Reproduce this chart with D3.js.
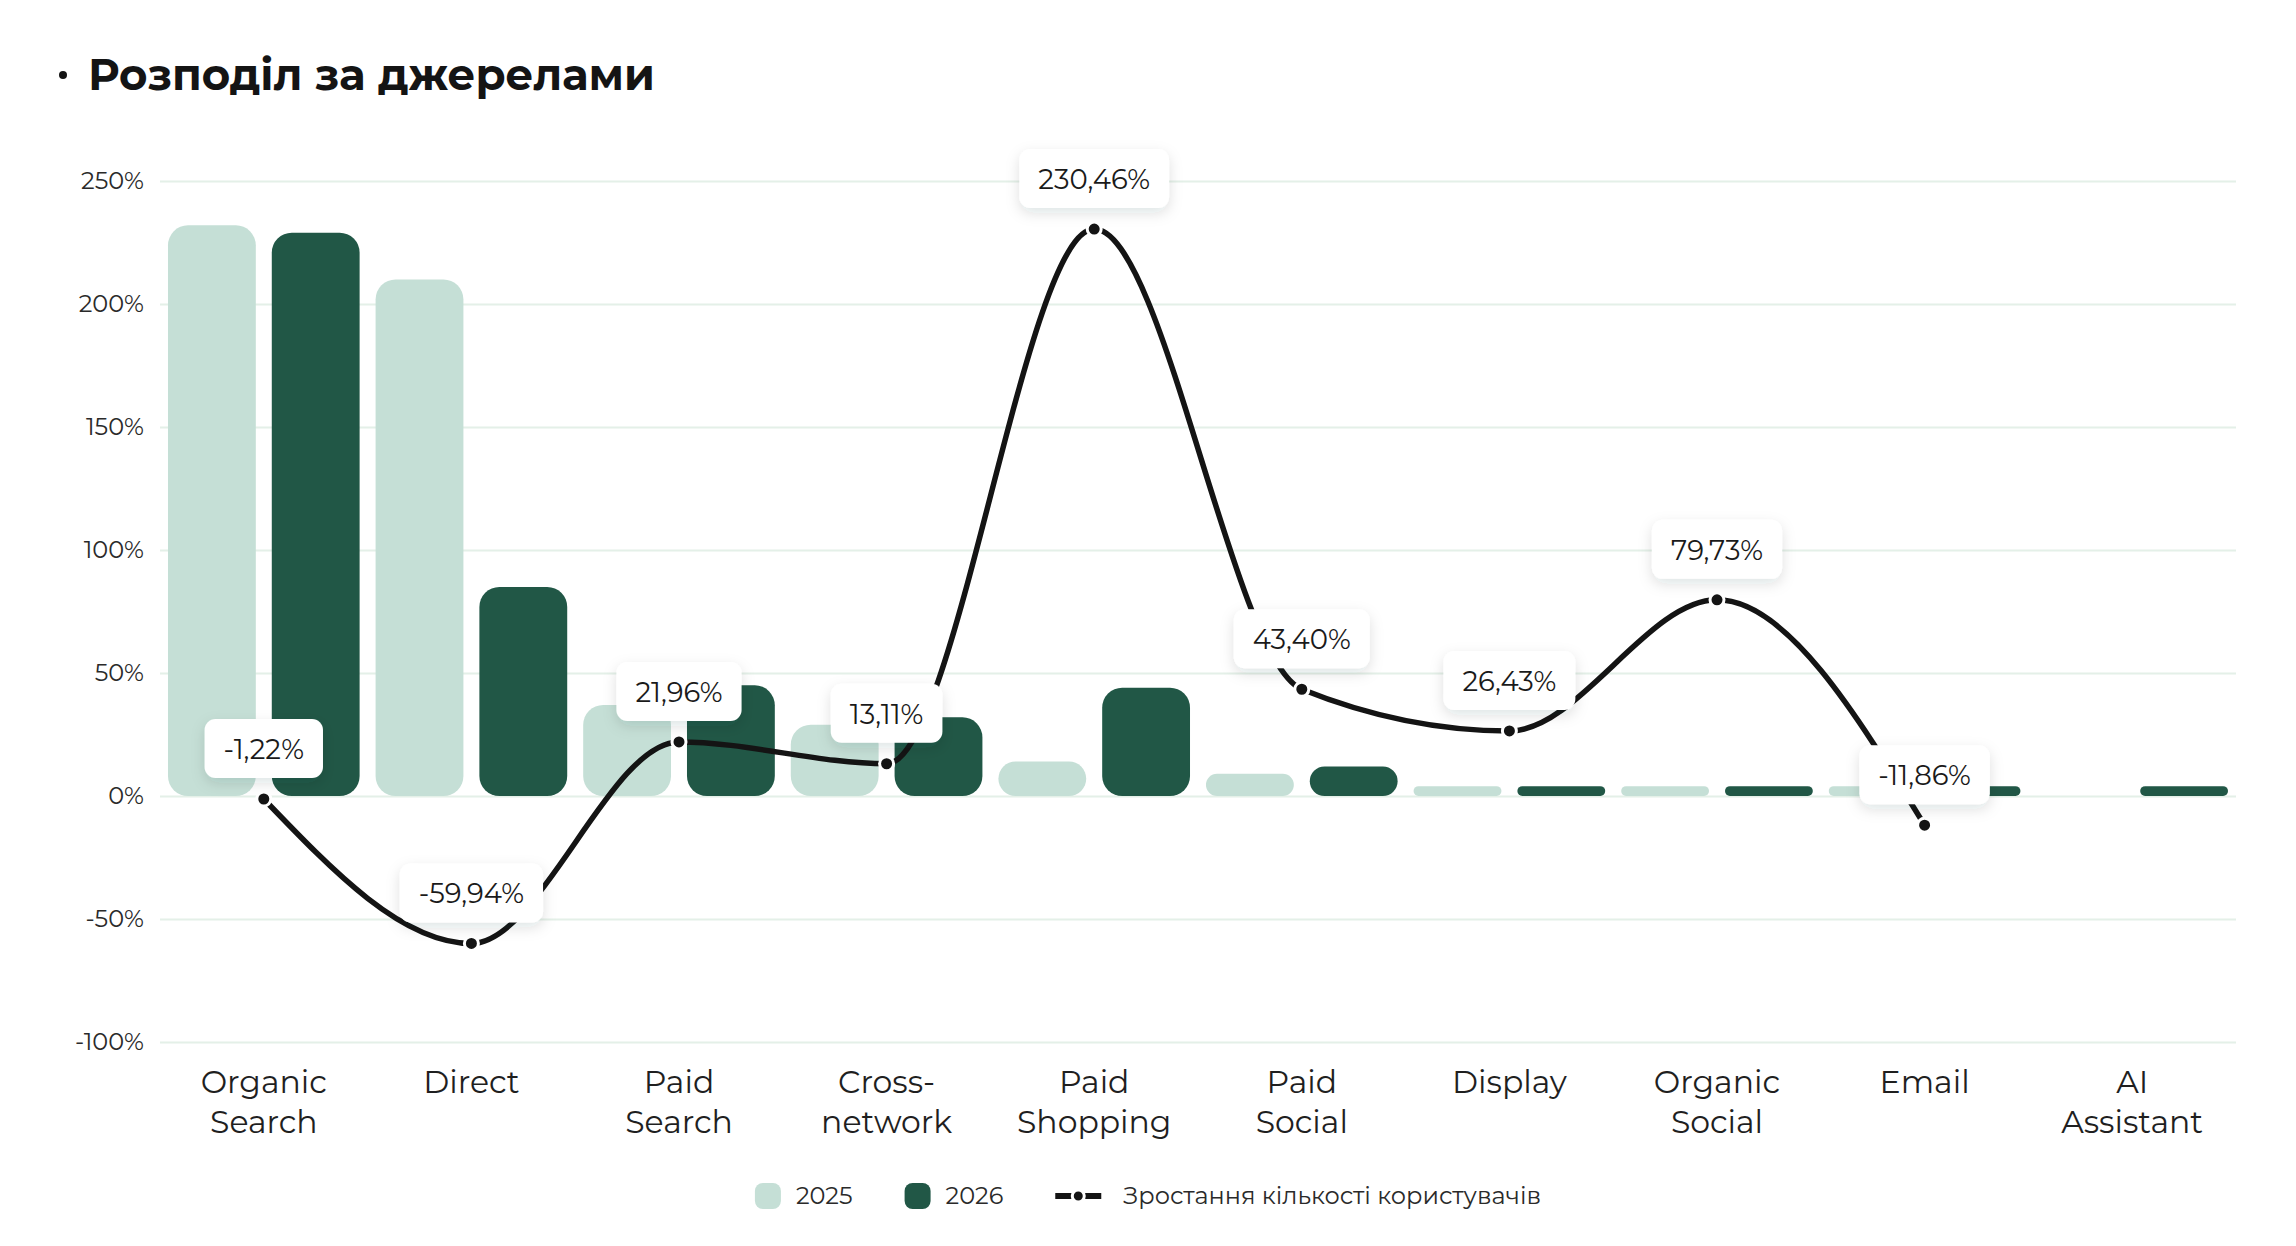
<!DOCTYPE html>
<html>
<head>
<meta charset="utf-8">
<script src="https://cdn.jsdelivr.net/npm/d3@7"></script>
<style>
    html, body { margin: 0; padding: 0; background: #ffffff; }
    svg { display: block; font-family: Montserrat, Inter, 'Noto Sans', sans-serif; }
</style>
</head>
<body>
<svg width="2296" height="1246" viewBox="0 0 2296 1246"></svg>
<script>
//  Data
const categories = ['Organic Search', 'Direct', 'Paid Search', 'Cross-network', 'Paid Shopping',
                    'Paid Social', 'Display', 'Organic Social', 'Email', 'AI Assistant'];
const categoryLines = [['Organic', 'Search'], ['Direct'], ['Paid', 'Search'], ['Cross-', 'network'],
                       ['Paid', 'Shopping'], ['Paid', 'Social'], ['Display'], ['Organic', 'Social'],
                       ['Email'], ['AI', 'Assistant']];
const seriesNames = ['2025', '2026'];
const values2025 = [232, 210, 37, 29, 14, 9, 4, 4, 4, null];
const values2026 = [229, 85, 45, 32, 44, 12, 4, 4, 4, 4];
const growth = [-1.22, -59.94, 21.96, 13.11, 230.46, 43.40, 26.43, 79.73, -11.86, null];
const yTicks = [-100, -50, 0, 50, 100, 150, 200, 250];
const lineName = 'Зростання кількості користувачів';
const title = 'Розподіл за джерелами';

const colors = { '2025': '#c5dfd6', '2026': '#215746' };

document.addEventListener('DOMContentLoaded', () => {

const svg = d3.select('svg');

//  Structure
//      TITLE (g)
//      GRID / Y AXIS (g)
//      BARS (g)
//      LINE (g)
//      LABELS (g)
//      X AXIS (g)
//      LEGEND (g)

const plot = { left: 160, right: 2236, top: 181, bottom: 1042 };

const x0 = d3.scaleBand().domain(categories).range([plot.left, plot.right]);
const x1 = d3.scaleBand().domain(seriesNames).range([0, x0.bandwidth()])
    .paddingInner(16 / 104).paddingOuter(8 / 104);
const y = d3.scaleLinear().domain([-100, 250]).range([plot.bottom, plot.top]);

const locale = d3.formatLocale({ decimal: ',', thousands: ' ', grouping: [3], currency: ['', ''], minus: '-' });
const fmt = locale.format('.2f');

// shadow for the label boxes
const defs = svg.append('defs');
defs.append('filter')
    .attr('id', 'shadow')
    .attr('x', '-30%').attr('y', '-40%').attr('width', '160%').attr('height', '200%')
    .append('feDropShadow')
    .attr('dx', 0).attr('dy', 5).attr('stdDeviation', 7)
    .attr('flood-color', '#1c2a30').attr('flood-opacity', 0.13);

//======================================================
//  Title
//======================================================
const titleG = svg.append('g').attr('id', 'title');
titleG.append('circle').attr('cx', 63).attr('cy', 75).attr('r', 4).attr('fill', '#141414');
titleG.append('text')
    .attr('x', 88).attr('y', 90)
    .attr('font-size', 43.5).attr('font-weight', 700).attr('fill', '#141414')
    .text(title);

//======================================================
//  Grid + y axis
//======================================================
const yAxis = svg.append('g')
    .attr('id', 'y_axis')
    .attr('transform', `translate(${plot.left},0)`)
    .call(d3.axisLeft(y).tickValues(yTicks).tickSize(-(plot.right - plot.left)).tickPadding(16)
        .tickFormat(d => d + '%'))
    .attr('font-family', null);
yAxis.select('.domain').remove();
yAxis.selectAll('.tick line').attr('stroke', '#e4f0e8').attr('stroke-width', 2);
yAxis.selectAll('.tick text')
    .attr('font-size', 24).attr('fill', '#2a2a2a');

//======================================================
//  Bars
//======================================================
const bars = svg.append('g').attr('id', 'bars');
const barData = [];
categories.forEach((c, i) => {
    barData.push({ cat: c, key: '2025', value: values2025[i] });
    barData.push({ cat: c, key: '2026', value: values2026[i] });
});

bars.selectAll('rect')
    .data(barData.filter(d => d.value != null))
    .join('rect')
    .attr('x', d => x0(d.cat) + x1(d.key))
    .attr('width', x1.bandwidth())
    .attr('y', d => y(d.value))
    .attr('height', d => y(0) - y(d.value))
    .attr('rx', d => Math.min(20, (y(0) - y(d.value)) / 2))
    .attr('fill', d => colors[d.key]);

//======================================================
//  Growth line
//======================================================
const lineG = svg.append('g').attr('id', 'growth');
const points = categories.map((c, i) => ({ cat: c, value: growth[i] }));
const cx = d => x0(d.cat) + x0.bandwidth() / 2;

const line = d3.line()
    .defined(d => d.value != null)
    .x(cx)
    .y(d => y(d.value))
    .curve(d3.curveMonotoneX);

lineG.append('path')
    .attr('d', line(points))
    .attr('fill', 'none')
    .attr('stroke', '#141414')
    .attr('stroke-width', 5.5)
    .attr('stroke-linecap', 'round');

lineG.selectAll('circle')
    .data(points.filter(d => d.value != null))
    .join('circle')
    .attr('cx', cx)
    .attr('cy', d => y(d.value))
    .attr('r', 7)
    .attr('fill', '#141414')
    .attr('stroke', '#ffffff')
    .attr('stroke-width', 3);

//======================================================
//  Value labels (white boxes above the points)
//======================================================
const labels = svg.append('g').attr('id', 'labels');
points.filter(d => d.value != null).forEach(d => {
    const g = labels.append('g')
        .attr('transform', `translate(${cx(d)},${y(d.value) - 21 - 29})`);
    const box = g.append('rect').attr('fill', '#ffffff').attr('filter', 'url(#shadow)');
    const t = g.append('text')
        .attr('text-anchor', 'middle')
        .attr('dy', '0.36em')
        .attr('font-size', 27.5)
        .attr('fill', '#1a1a1a')
        .text(fmt(d.value) + '%');
    const w = t.node().getComputedTextLength() + 38;
    box.attr('x', -w / 2).attr('y', -30).attr('width', w).attr('height', 59).attr('rx', 11);
});

//======================================================
//  X axis labels
//======================================================
const xAxis = svg.append('g')
    .attr('id', 'x_axis')
    .attr('transform', `translate(0,${plot.bottom})`)
    .call(d3.axisBottom(x0).tickSize(0).tickPadding(0))
    .attr('font-family', null);
xAxis.select('.domain').remove();
xAxis.selectAll('.tick text')
    .attr('font-size', 31.5).attr('fill', '#1f1f1f')
    .attr('y', 0).attr('dy', null)
    .text(null)
    .each(function (d) {
        const lines = categoryLines[categories.indexOf(d)];
        lines.forEach((l, k) => {
            d3.select(this).append('tspan')
                .attr('x', 0)
                .attr('y', 51 + k * 40)
                .text(l);
        });
    });

//======================================================
//  Legend
//======================================================
const legend = svg.append('g').attr('id', 'legend');
const legendY = 1196;
const items = [
    { type: 'bar', key: '2025', label: '2025' },
    { type: 'bar', key: '2026', label: '2026' },
    { type: 'line', label: lineName }
];
let lx = 0;
items.forEach((it, i) => {
    const g = legend.append('g').attr('transform', `translate(${lx},0)`);
    let sw, gap;
    if (it.type === 'bar') {
        g.append('rect')
            .attr('x', 0).attr('y', legendY - 13)
            .attr('width', 26).attr('height', 26).attr('rx', 8)
            .attr('fill', colors[it.key]);
        sw = 26; gap = 15;
    } else {
        g.append('line')
            .attr('x1', 0).attr('x2', 46).attr('y1', legendY).attr('y2', legendY)
            .attr('stroke', '#141414').attr('stroke-width', 6);
        g.append('circle')
            .attr('cx', 23).attr('cy', legendY).attr('r', 6)
            .attr('fill', '#141414').attr('stroke', '#ffffff').attr('stroke-width', 3);
        sw = 46; gap = 22;
    }
    const t = g.append('text')
        .attr('x', sw + gap).attr('y', legendY).attr('dy', '0.35em')
        .attr('font-size', 24).attr('fill', '#2a2a2a')
        .text(it.label);
    lx += sw + gap + t.node().getComputedTextLength() + 52;
});
const legendW = lx - 52;
legend.attr('transform', `translate(${(2296 - legendW) / 2},0)`);

});
</script>
</body>
</html>
